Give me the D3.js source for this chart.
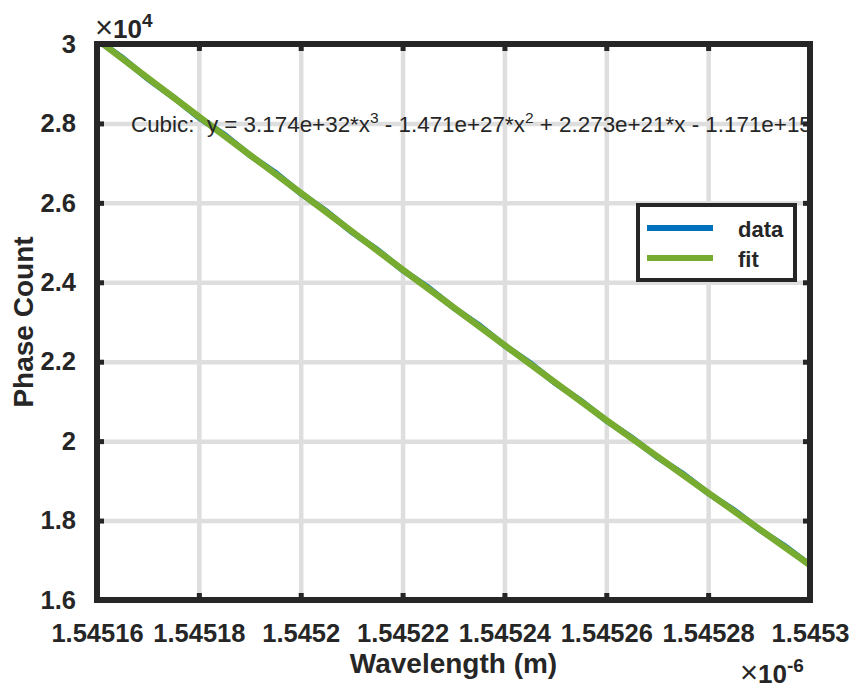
<!DOCTYPE html>
<html>
<head>
<meta charset="utf-8">
<script src="https://cdn.jsdelivr.net/npm/d3@7"></script>
<style>
  body { margin: 0; background: #fff; }
  text { font-family: "Liberation Sans", Arial, sans-serif; fill: #262626; }
</style>
</head>
<body>
<div id="chart"></div>
<script>
// wavelength in units of 1e-6 m, phase count raw
var dataX = [1.5451612, 1.545165, 1.54517, 1.545175, 1.54518, 1.545185, 1.54519, 1.545195,
             1.5452, 1.545205, 1.54521, 1.545215, 1.54522, 1.545225, 1.54523, 1.545235,
             1.54524, 1.545245, 1.54525, 1.545255, 1.54526, 1.545265, 1.54527, 1.545275,
             1.54528, 1.545285, 1.54529, 1.545295, 1.5453];
var dataY = [30000, 29650, 29120, 28660, 28150, 27720, 27200, 26760,
             26240, 25790, 25270, 24820, 24310, 23870, 23360, 22920,
             22410, 21970, 21460, 21020, 20520, 20090, 19600, 19180,
             18690, 18270, 17780, 17360, 16880];

var fitX = [1.5451612, 1.54517, 1.54518, 1.54519, 1.5452, 1.54521, 1.54522, 1.54523,
            1.54524, 1.54525, 1.54526, 1.54527, 1.54528, 1.54529, 1.5453];
var fitY = [30000, 29140, 28170, 27210, 26250, 25285, 24320, 23370,
            22420, 21475, 20530, 19615, 18700, 17790, 16880];

var xTicks = [1.54516, 1.54518, 1.5452, 1.54522, 1.54524, 1.54526, 1.54528, 1.5453];
var xTickLabels = ["1.54516", "1.54518", "1.5452", "1.54522", "1.54524", "1.54526", "1.54528", "1.5453"];
var yTicks = [16000, 18000, 20000, 22000, 24000, 26000, 28000, 30000];
var yTickLabels = ["1.6", "1.8", "2", "2.2", "2.4", "2.6", "2.8", "3"];

var fitLabel = ["Cubic:  y = 3.174e+32*x", "3", " - 1.471e+27*x", "2", " + 2.273e+21*x - 1.171e+15"];

function drawChart() {
    var width = 855, height = 690;
    var left = 97, right = 810, top = 44, bottom = 600;
    var axisColor = "#262626";

    var svg = d3.select("#chart").append("svg")
        .attr("width", width)
        .attr("height", height);

    var x = d3.scaleLinear().domain([1.54516, 1.5453]).range([left, right]);
    var y = d3.scaleLinear().domain([16000, 30000]).range([bottom, top]);

    // grid
    svg.append("g")
        .attr("transform", "translate(0," + bottom + ")")
        .call(d3.axisBottom(x).tickValues(xTicks).tickSize(-(bottom - top)).tickFormat(""))
        .call(function(g) {
            g.select(".domain").remove();
            g.selectAll("line").attr("stroke", "#dedede").attr("stroke-width", 4.5);
        });
    svg.append("g")
        .attr("transform", "translate(" + left + ",0)")
        .call(d3.axisLeft(y).tickValues(yTicks).tickSize(-(right - left)).tickFormat(""))
        .call(function(g) {
            g.select(".domain").remove();
            g.selectAll("line").attr("stroke", "#dedede").attr("stroke-width", 4.5);
        });

    // lines
    svg.append("clipPath").attr("id", "clip")
        .append("rect").attr("x", left).attr("y", top)
        .attr("width", right - left).attr("height", bottom - top);

    var line = d3.line()
        .x(function(d) { return x(d[0]); })
        .y(function(d) { return y(d[1]); });

    svg.append("path")
        .datum(d3.zip(dataX, dataY))
        .attr("clip-path", "url(#clip)")
        .attr("fill", "none")
        .attr("stroke", "#0072BD")
        .attr("stroke-width", 6)
        .attr("d", line);

    svg.append("path")
        .datum(d3.zip(fitX, fitY))
        .attr("clip-path", "url(#clip)")
        .attr("fill", "none")
        .attr("stroke", "#77AC30")
        .attr("stroke-width", 6.5)
        .attr("d", line.curve(d3.curveMonotoneX));

    // axes (ticks inside)
    function styleAxis(g) {
        g.select(".domain").remove();
        g.selectAll("line").attr("stroke", axisColor).attr("stroke-width", 5);
        g.selectAll("text").attr("fill", axisColor).style("font-size", "25.5px")
            .style("font-weight", "bold").style("font-family", "'Liberation Sans', Arial, sans-serif");
    }
    svg.append("g")
        .attr("transform", "translate(0," + bottom + ")")
        .call(d3.axisBottom(x).tickValues(xTicks).tickSizeInner(-7).tickPadding(24)
            .tickFormat(function(d, i) { return xTickLabels[i]; }))
        .call(styleAxis);
    svg.append("g")
        .attr("transform", "translate(0," + top + ")")
        .call(d3.axisTop(x).tickValues(xTicks).tickSizeInner(-7).tickFormat(""))
        .call(styleAxis);
    svg.append("g")
        .attr("transform", "translate(" + left + ",0)")
        .call(d3.axisLeft(y).tickValues(yTicks).tickSizeInner(-7).tickPadding(21)
            .tickFormat(function(d, i) { return yTickLabels[i]; }))
        .call(styleAxis);
    svg.append("g")
        .attr("transform", "translate(" + right + ",0)")
        .call(d3.axisRight(y).tickValues(yTicks).tickSizeInner(-7).tickFormat(""))
        .call(styleAxis);

    // box
    svg.append("rect")
        .attr("x", left).attr("y", top)
        .attr("width", right - left).attr("height", bottom - top)
        .attr("fill", "none").attr("stroke", axisColor).attr("stroke-width", 6);

    // exponent labels
    var e1 = svg.append("text").attr("x", 95).attr("y", 38);
    e1.append("tspan").text("\u00d7").style("font-size", "31px");
    e1.append("tspan").text("10").style("font-size", "26px").style("font-weight", "bold");
    e1.append("tspan").text("4").attr("dy", -11).style("font-size", "19px").style("font-weight", "bold");

    var e2 = svg.append("text").attr("x", 740).attr("y", 683);
    e2.append("tspan").text("\u00d7").style("font-size", "31px");
    e2.append("tspan").text("10").style("font-size", "26px").style("font-weight", "bold");
    e2.append("tspan").text("-6").attr("dy", -11).style("font-size", "19px").style("font-weight", "bold");

    // axis titles
    svg.append("text")
        .attr("x", (left + right) / 2).attr("y", 673)
        .attr("text-anchor", "middle")
        .style("font-size", "28px").style("font-weight", "bold")
        .text("Wavelength (m)");
    svg.append("text")
        .attr("transform", "translate(33," + ((top + bottom) / 2) + ") rotate(-90)")
        .attr("text-anchor", "middle")
        .style("font-size", "28px").style("font-weight", "bold")
        .text("Phase Count");

    // fit equation
    var eq = svg.append("text").attr("x", 131).attr("y", 132)
        .style("font-size", "22.4px").style("white-space", "pre");
    fitLabel.forEach(function(s, i) {
        var t = eq.append("tspan").text(s);
        if (i % 2 === 1) {
            t.attr("dy", -9).style("font-size", "15.5px");
        } else if (i > 0) {
            t.attr("dy", 9);
        }
    });

    // legend
    var lg = svg.append("g");
    lg.append("rect")
        .attr("x", 638).attr("y", 205).attr("width", 157).attr("height", 75)
        .attr("fill", "#fff").attr("stroke", axisColor).attr("stroke-width", 4);
    var legendItems = [["data", "#0072BD"], ["fit", "#77AC30"]];
    legendItems.forEach(function(item, i) {
        var yy = 228 + i * 30;
        lg.append("line")
            .attr("x1", 647).attr("x2", 713).attr("y1", yy).attr("y2", yy)
            .attr("stroke", item[1]).attr("stroke-width", 6);
        lg.append("text")
            .attr("x", 738).attr("y", yy + 9)
            .style("font-size", "22px").style("font-weight", "bold")
            .text(item[0]);
    });
}

drawChart();
</script>
</body>
</html>
